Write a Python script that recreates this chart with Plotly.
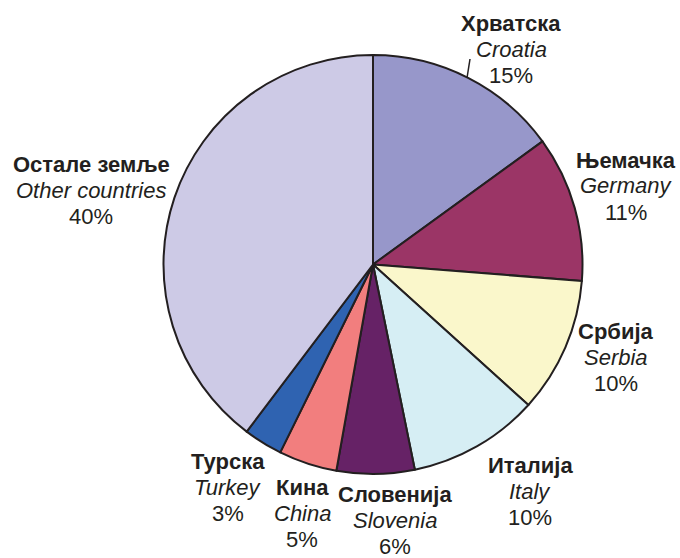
import plotly.graph_objects as go

names_sr = ["Хрватска", "Њемачка", "Србија", "Италија", "Словенија", "Кина", "Турска", "Остале земље"]
names_en = ["Croatia", "Germany", "Serbia", "Italy", "Slovenia", "China", "Turkey", "Other countries"]
shares = [15.0, 11.25, 10.45, 10.1, 6.0, 4.5, 3.0, 39.7]          # slice sizes as drawn
pct_labels = ["15%", "11%", "10%", "10%", "6%", "5%", "3%", "40%"]  # printed labels
colors = ["#9797CA", "#9B3566", "#FAF7CB", "#D6EEF4", "#662266", "#F27E7E", "#2F63B1", "#CDCAE6"]

W, H = 680, 558
# label centre positions (pixels) of the middle line
label_px = [(511, 50), (626, 186), (616, 357), (530, 491), (395, 520), (302, 513), (228, 487), (91, 190)]
LINE = 26

fig = go.Figure(go.Pie(
    values=shares,
    labels=names_en,
    marker=dict(colors=colors, line=dict(color="#231F20", width=2)),
    sort=False,
    direction="clockwise",
    rotation=0,
    textinfo="none",
    hoverinfo="label",
    showlegend=False,
    domain=dict(x=[163 / W, 583 / W], y=[(H - 474) / H, (H - 55) / H]),
))

font = dict(family="Liberation Sans, Arial, sans-serif", size=22, color="#231F20")
annotations = []
for sr, en, p, (px, py) in zip(names_sr, names_en, pct_labels, label_px):
    for k, txt in enumerate([f"<b>{sr}</b>", f"<i>{en}</i>", p]):
        annotations.append(dict(
            x=px / W, y=1 - (py + (k - 1) * LINE) / H, xref="paper", yref="paper",
            xanchor="center", yanchor="middle", showarrow=False,
            text=txt, font=font, align="center", borderpad=0,
        ))

fig.update_layout(
    width=W, height=H,
    margin=dict(l=0, r=0, t=0, b=0),
    paper_bgcolor="white", plot_bgcolor="white",
    annotations=annotations,
    shapes=[dict(type="line", xref="paper", yref="paper",
                 x0=467 / W, y0=1 - 78 / H, x1=470 / W, y1=1 - 59 / H,
                 line=dict(color="#231F20", width=1.5))],
)

fig.write_html("out.html", config={"displayModeBar": False},
               post_script="document.body.style.margin='0';")
